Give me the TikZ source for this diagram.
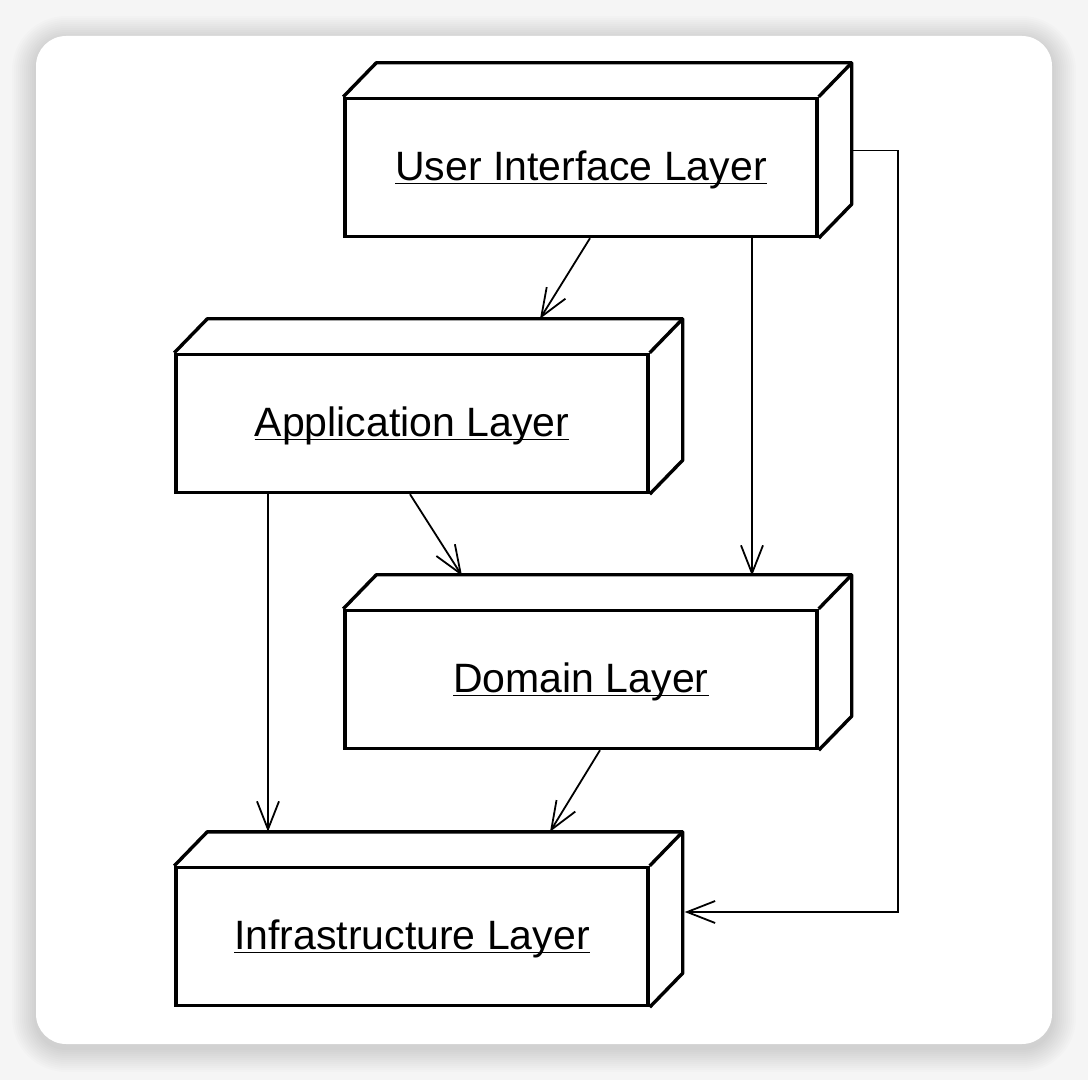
\documentclass[tikz,border=0pt]{standalone}
\usepackage{fontspec}
\setmainfont{Liberation Sans}
\usetikzlibrary{arrows.meta, calc}

\begin{document}
\begin{tikzpicture}[
    x=0.5pt, y=-0.5pt, % one unit is one pixel of the frame, y runs downwards
    >={Straight Barb[length=14pt, width=11pt]}, % open arrow heads
    layer/.style={draw, line width=1.7pt, fill=white, inner sep=0pt,
        minimum width=236pt, minimum height=69pt,
        font=\fontsize{20.5}{24}\selectfont}, % front face of a layer
    face/.style={draw, line width=1.7pt, line join=round}, % top and side faces
    dep/.style={->, line width=0.9pt} % dependency arrow
]

    % Frame: grey backdrop, soft shadow and the white card
    \useasboundingbox (0,0) rectangle (1088,1080);
    \fill[black!4] (0,0) rectangle (1088,1080);
    \foreach \i in {1,...,12}
        \fill[black, opacity=0.012, rounded corners=15pt+\i*1pt]
            (36-2*\i,40-2*\i) rectangle (1052+2*\i,1048+2*\i);
    \fill[white, rounded corners=15pt] (36,36) rectangle (1052,1044);

    % Layers: front face as a node, then the top and side faces
    \foreach \lay/\cx/\cy/\txt in {ui/581/167.5/User Interface Layer,
                                  app/412/423.5/Application Layer,
                                  dom/581/679.5/Domain Layer,
                                  inf/412/936.5/Infrastructure Layer}{
        \node[layer] (\lay) at (\cx,\cy) {\underline{\raisebox{0pt}[\height][0pt]{\txt}}};
        \draw[face] (\lay.north west) -- ++(33,-34) -- ($(\lay.north east)+(33,-34)$)
            -- ($(\lay.south east)+(33,-34)$) -- (\lay.south east);
        \draw[face] (\lay.north east) -- ++(33,-34);
    }

    % Dependencies
    \draw[dep] ($(ui.south)+(9,0)$) -- ($(app.north)+(128,-34)$);
    \draw[dep] ($(ui.south)+(171,0)$) -- ($(dom.north)+(171,-33)$);
    \draw[dep] ($(app.south)+(-2,0)$) -- ($(dom.north)+(-119,-33)$);
    \draw[dep] ($(app.south)+(-144,0)$) -- ($(inf.north)+(-144,-34)$);
    \draw[dep] ($(dom.south)+(19,0)$) -- ($(inf.north)+(138,-34)$);

    % UI layer straight down to infrastructure, round the right side
    \draw[dep] ($(ui.east)+(32,-17)$) -- ++(47,0) |- ($(inf.east)+(35,-24.5)$);

\end{tikzpicture}
\end{document}
